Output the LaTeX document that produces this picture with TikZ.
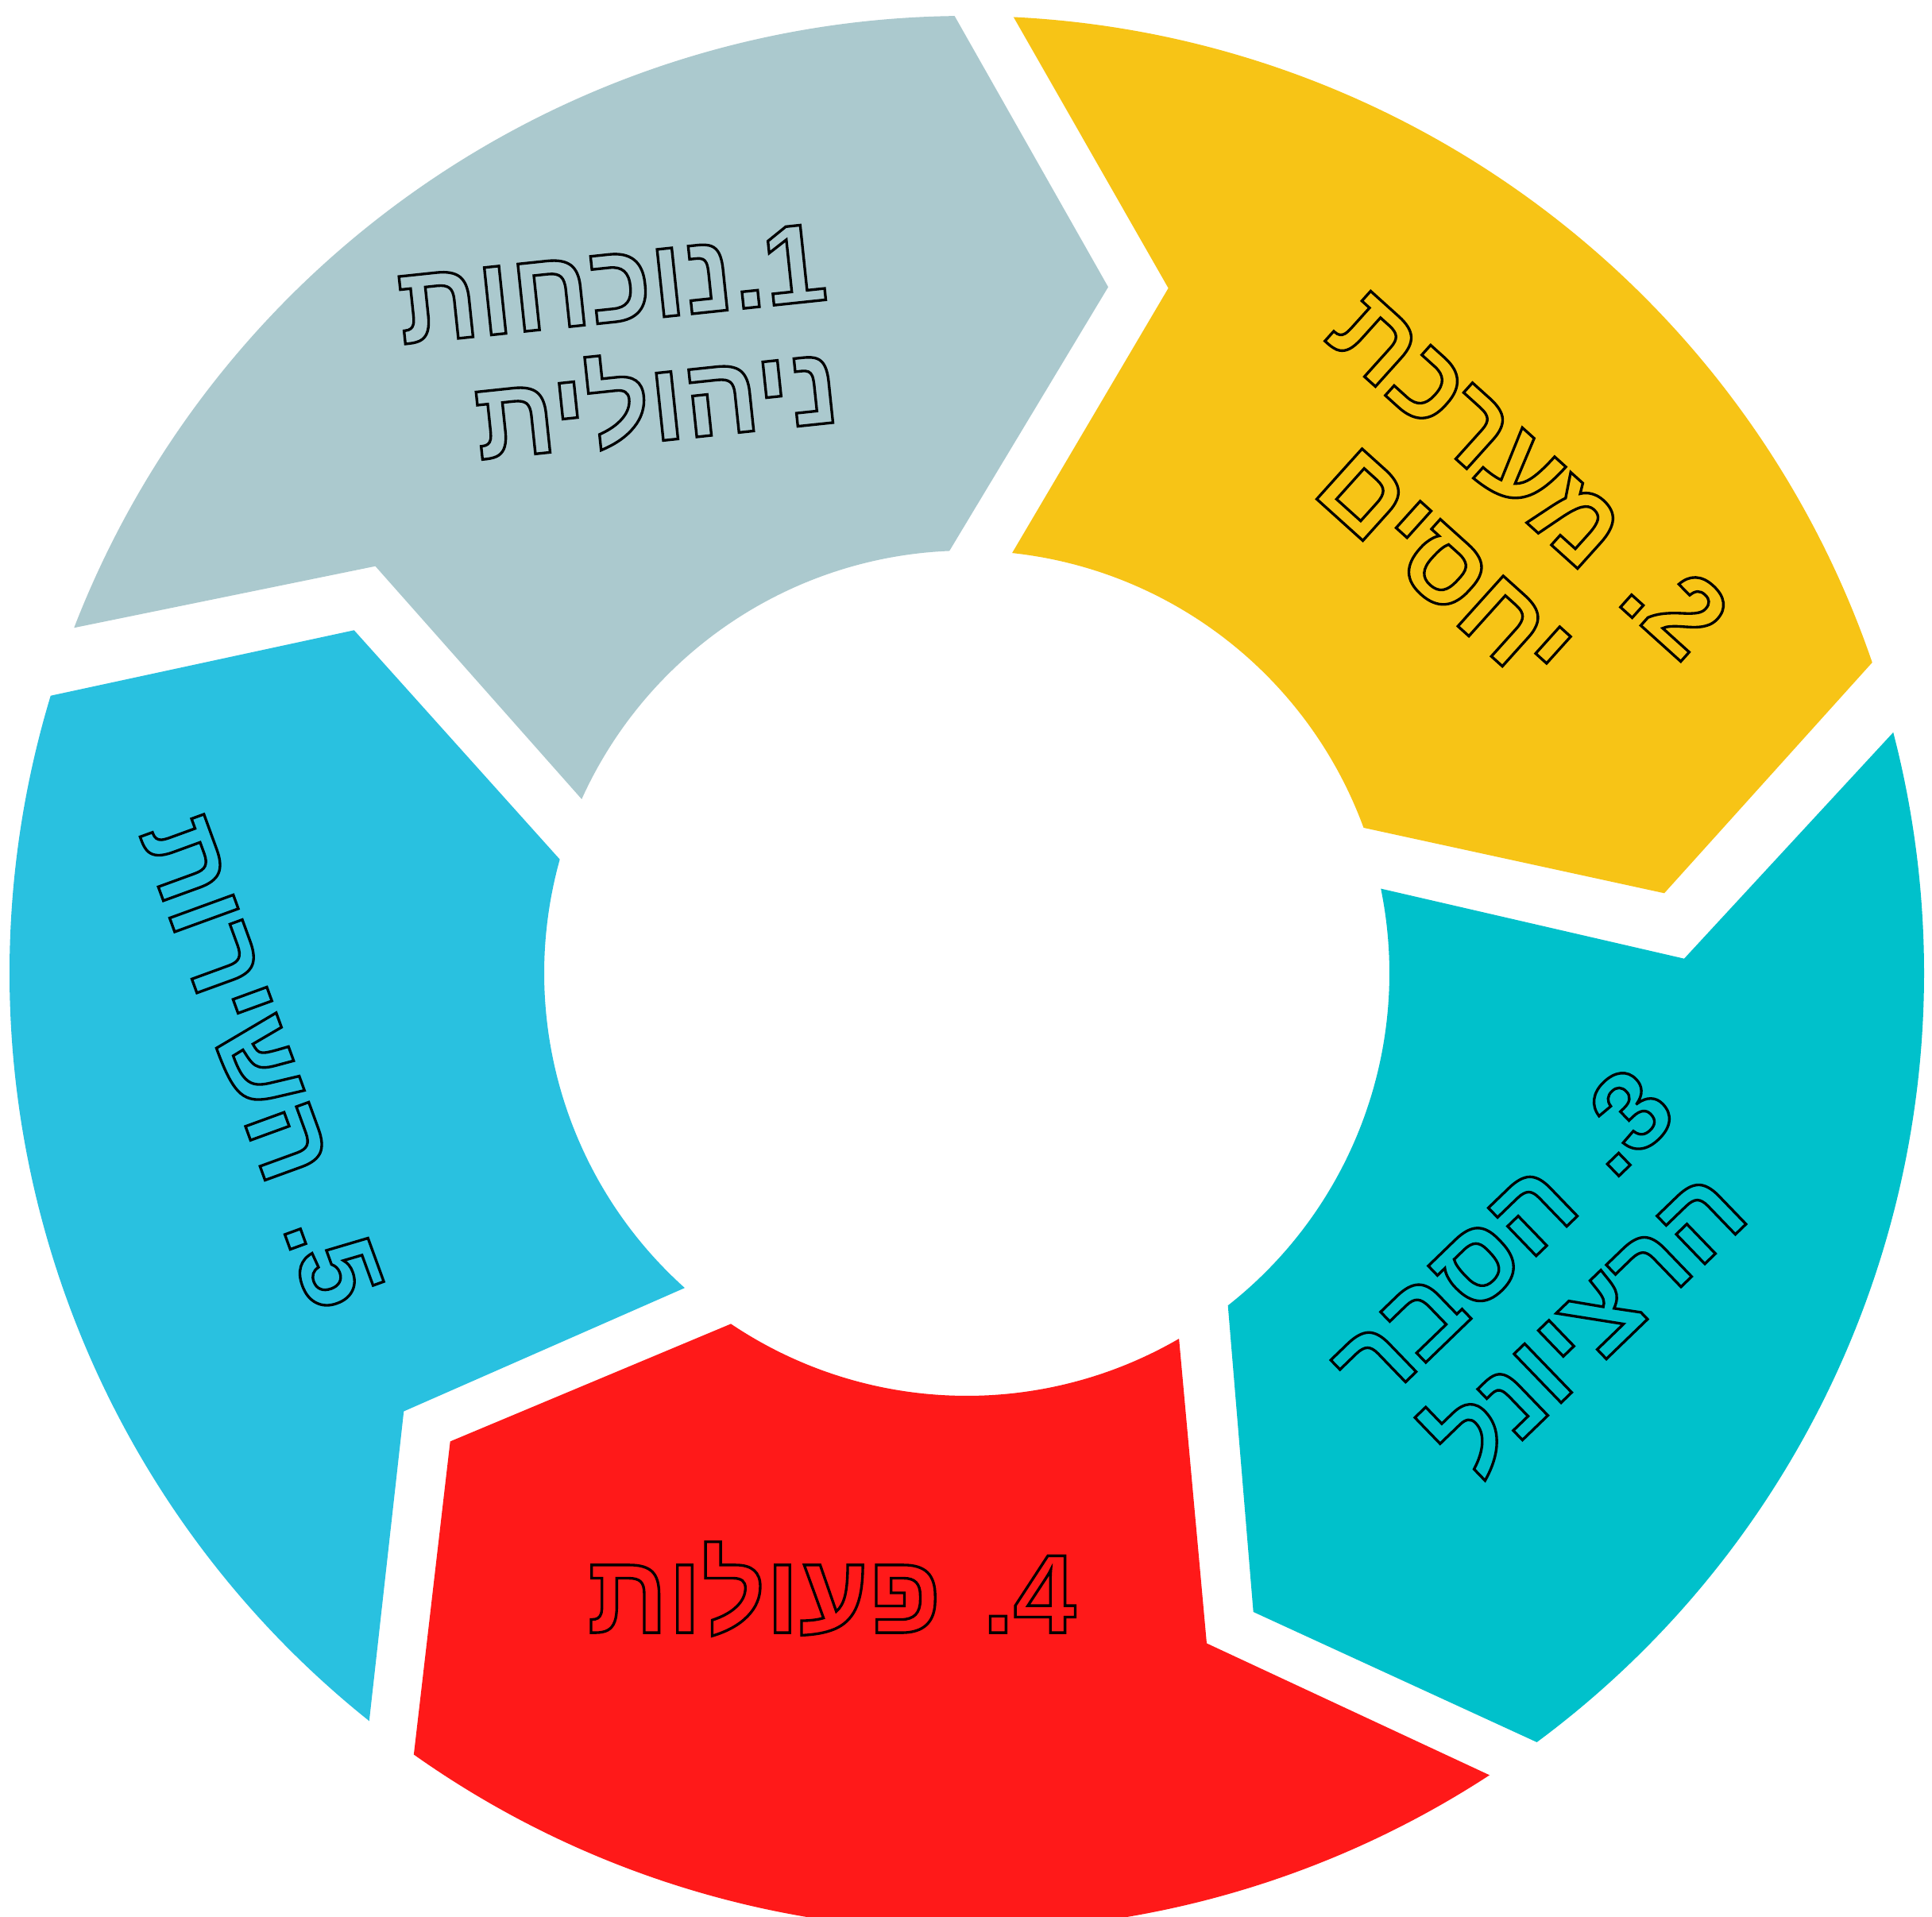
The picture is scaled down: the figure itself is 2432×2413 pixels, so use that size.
\documentclass[tikz,border=0pt]{standalone}
\usepackage{fontspec}
\newfontfamily\hebfont[Script=Hebrew]{Liberation Sans}
\TeXXeTstate=1
\usetikzlibrary{calc}
\definecolor{segGray}{RGB}{171,201,206}
\definecolor{segYellow}{RGB}{247,196,22}
\definecolor{segTeal}{RGB}{0,193,203}
\definecolor{segRed}{RGB}{255,25,25}
\definecolor{segBlue}{RGB}{41,193,224}
\tikzset{
  outlinetext/.style={inner sep=0pt, text=black,
    font=\hebfont\bfseries\fontsize{40}{44}\selectfont,
    execute at begin node={\special{pdf:literal direct 1 Tr 0.95 w}},
    execute at end node={\special{pdf:literal direct 0 Tr}}}
}
\begin{document}
\begin{tikzpicture}[x=0.01cm,y=-0.01cm]
\fill[white] (0,0) rectangle (2432,2413);
\useasboundingbox (0,0) rectangle (2432,2413);
\clip (0,0) rectangle (2432,2413);
\coordinate (C) at (1217,1225);
% tips and notches
\coordinate (tipA) at (1395,361.3);
\coordinate (notchA) at (472.5,712.7);
\coordinate (tipB) at (2095,1124.3);
\coordinate (notchB) at (1470.7,362.7);
\coordinate (tipC) at (1577.7,2029);
\coordinate (notchC) at (2120,1206.7);
\coordinate (tipD) at (566.7,1814.4);
\coordinate (notchD) at (1519,2068.5);
\coordinate (tipE) at (445.7,793.3);
\coordinate (notchE) at (508.3,1776.5);
% segment 1
\fill[segGray] ($(C)+(-158.85:1205)$) arc[start angle=-158.85, end angle=-90.73, radius=1205]
  -- (tipA) -- ($(C)+(-92.36:532)$) arc[start angle=-92.36, end angle=-155.68, radius=532]
  -- (notchA) -- cycle;
% segment 2
\fill[segYellow] ($(C)+(-87.2:1205)$) arc[start angle=-87.2, end angle=-18.94, radius=1205]
  -- (tipB) -- ($(C)+(-20.13:532)$) arc[start angle=-20.13, end angle=-83.84, radius=532]
  -- (notchB) -- cycle;
% segment 3
\fill[segTeal] ($(C)+(-14.57:1205)$) arc[start angle=-14.57, end angle=53.45, radius=1205]
  -- (tipC) -- ($(C)+(51.84:532)$) arc[start angle=51.84, end angle=-11.54, radius=532]
  -- (notchC) -- cycle;
% segment 4
\fill[segRed] ($(C)+(56.9:1205)$) arc[start angle=56.9, end angle=125.29, radius=1205]
  -- (tipD) -- ($(C)+(123.93:532)$) arc[start angle=123.93, end angle=59.86, radius=532]
  -- (notchD) -- cycle;
% segment 5
\fill[segBlue] ($(C)+(128.63:1205)$) arc[start angle=128.63, end angle=196.85, radius=1205]
  -- (tipE) -- ($(C)+(195.62:532)$) arc[start angle=195.62, end angle=131.87, radius=532]
  -- (notchE) -- cycle;
% labels
\node[outlinetext, align=right, rotate=6] (t1) at (778,436)
  {\beginR 1.נוכחות\endR\\\beginR ניהולית\endR};
\node[outlinetext, align=center, rotate=-42] (t2) at (1873,653)
  {\beginR 2. מערכת\endR\\\beginR יחסים\endR};
\node[outlinetext, align=center, rotate=44] (t3) at (1945,1612)
  {\beginR 3. הסבר\endR\\\beginR הרציונל\endR};
\node[outlinetext, rotate=0] (t4) at (1047,2000)
  {\beginR 4. פעולות\endR};
\node[outlinetext, rotate=-70] (t5) at (330,1336)
  {\beginR 5. השירות\endR};
\end{tikzpicture}
\end{document}
